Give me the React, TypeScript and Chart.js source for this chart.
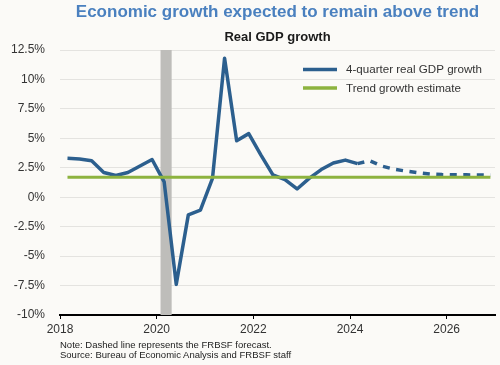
import React, { useEffect, useRef } from "react";
import { Chart, registerables } from "chart.js";

Chart.register(...registerables);

const titleText = "Economic growth expected to remain above trend";
const subtitleText = "Real GDP growth";
const noteLines = [
  "Note: Dashed line represents the FRBSF forecast.",
  "Source: Bureau of Economic Analysis and FRBSF staff",
];

const actualQuarters = [
  "2018Q1", "2018Q2", "2018Q3", "2018Q4",
  "2019Q1", "2019Q2", "2019Q3", "2019Q4",
  "2020Q1", "2020Q2", "2020Q3", "2020Q4",
  "2021Q1", "2021Q2", "2021Q3", "2021Q4",
  "2022Q1", "2022Q2", "2022Q3", "2022Q4",
  "2023Q1", "2023Q2", "2023Q3", "2023Q4",
  "2024Q1",
];
const actualGrowth = [
  3.3, 3.25, 3.1, 2.1,
  1.85, 2.1, 2.65, 3.2,
  1.3, -7.4, -1.5, -1.1,
  1.6, 11.8, 4.8, 5.4,
  3.6, 1.9, 1.5, 0.7,
  1.6, 2.35, 2.9, 3.15,
  2.85,
];

const forecastQuarters = [
  "2024Q1", "2024Q2", "2024Q3", "2024Q4",
  "2025Q1", "2025Q2", "2025Q3", "2025Q4",
  "2026Q1", "2026Q2", "2026Q3", "2026Q4",
];
const forecastGrowth = [
  2.85, 3.1, 2.65, 2.38,
  2.22, 2.08, 1.97, 1.92,
  1.9, 1.9, 1.89, 1.88,
];

const trendQuarters = ["2018Q1", "2026Q4"];
const trendGrowth = [1.7, 1.7];

const recessionStart = 2020.08;
const recessionEnd = 2020.31;

const xTickYears = [2018, 2020, 2022, 2024, 2026];
const xMin = 2018;
const xMax = 2027;
const yMin = -10;
const yMax = 12.5;
const yStep = 2.5;

const legendLabels = ["4-quarter real GDP growth", "Trend growth estimate"];

const BLUE = "#2c5f8e";
const GREEN = "#8db33f";
const TEXT = "#333333";
const BG = "#fbfaf7";

function quarterToYear(label: string): number {
  const year = parseInt(label.slice(0, 4), 10);
  const q = parseInt(label.slice(5), 10);
  return year + (q - 1) / 4 + 0.155;
}

function toPoints(quarters: string[], values: number[]) {
  return quarters.map((q, i) => ({ x: quarterToYear(q), y: values[i] }));
}

const recessionPlugin = {
  id: "recessionShade",
  beforeDatasetsDraw(chart: any) {
    const { ctx, chartArea, scales } = chart;
    const x0 = scales.x.getPixelForValue(recessionStart);
    const x1 = scales.x.getPixelForValue(recessionEnd);
    ctx.save();
    ctx.fillStyle = "#bebdba";
    ctx.fillRect(x0, chartArea.top, x1 - x0, chartArea.bottom - chartArea.top);
    ctx.restore();
  },
};

const customLegendPlugin = {
  id: "customLegend",
  afterDatasetsDraw(chart: any) {
    const { ctx, chartArea } = chart;
    const items = [
      { label: legendLabels[0], color: BLUE },
      { label: legendLabels[1], color: GREEN },
    ];
    const startX = chartArea.right - 192;
    const lineLen = 34;
    const textX = startX + 43;
    const firstY = chartArea.top + 19.5;
    const rowGap = 18.5;
    ctx.save();
    ctx.font = "11.6px 'Liberation Sans', Arial, sans-serif";
    ctx.textBaseline = "middle";
    ctx.textAlign = "left";
    items.forEach((it, i) => {
      const y = firstY + i * rowGap;
      ctx.strokeStyle = it.color;
      ctx.lineWidth = 3.5;
      ctx.lineCap = "butt";
      ctx.beginPath();
      ctx.moveTo(startX, y);
      ctx.lineTo(startX + lineLen, y);
      ctx.stroke();
      ctx.fillStyle = TEXT;
      ctx.fillText(it.label, textX, y + 0.5);
    });
    ctx.restore();
  },
};

export default function App() {
  const canvasRef = useRef<HTMLCanvasElement | null>(null);

  useEffect(() => {
    if (!canvasRef.current) return;
    const chart = new Chart(canvasRef.current, {
      type: "line",
      data: {
        datasets: [
          {
            label: legendLabels[0],
            data: toPoints(actualQuarters, actualGrowth),
            borderColor: BLUE,
            borderWidth: 3.5,
            borderJoinStyle: "round",
            pointRadius: 0,
            tension: 0,
            fill: false,
            order: 1,
          },
          {
            label: "Forecast",
            data: toPoints(forecastQuarters, forecastGrowth),
            borderColor: BLUE,
            borderWidth: 3.5,
            borderDash: [7, 6.5],
            borderJoinStyle: "round",
            pointRadius: 0,
            tension: 0,
            fill: false,
            order: 1,
          },
          {
            label: legendLabels[1],
            data: toPoints(trendQuarters, trendGrowth),
            borderColor: GREEN,
            borderWidth: 3,
            pointRadius: 0,
            tension: 0,
            fill: false,
            order: 0,
          },
        ],
      },
      options: {
        responsive: false,
        animation: false,
        devicePixelRatio: 1,
        layout: { padding: { left: 0, right: 5, top: 0, bottom: 28 } },
        plugins: {
          legend: { display: false },
          tooltip: { enabled: false },
          title: {
            display: true,
            text: titleText,
            fullSize: false,
            color: "#4a80bf",
            font: { family: "'Liberation Sans', Arial, sans-serif", size: 17, weight: "bold" },
            padding: { top: 2, bottom: 3 },
          },
          subtitle: {
            display: true,
            text: subtitleText,
            fullSize: false,
            color: "#1a1a1a",
            font: { family: "'Liberation Sans', Arial, sans-serif", size: 13, weight: "bold" },
            padding: { top: 4, bottom: 5 },
          },
        },
        scales: {
          x: {
            type: "linear",
            min: xMin,
            max: xMax,
            afterBuildTicks: (scale: any) => {
              scale.ticks = xTickYears.map((v) => ({ value: v }));
            },
            afterFit: (scale: any) => {
              scale.height = 22;
            },
            grid: {
              drawOnChartArea: false,
              drawTicks: true,
              tickLength: 4,
              color: "#000000",
              lineWidth: 1,
            },
            border: { display: true, color: "#000000", width: 2 },
            ticks: {
              color: TEXT,
              padding: 3,
              maxRotation: 0,
              autoSkip: false,
              font: { family: "'Liberation Sans', Arial, sans-serif", size: 12 },
              callback: (v: any) => String(v),
            },
          },
          y: {
            type: "linear",
            min: yMin,
            max: yMax,
            afterFit: (scale: any) => {
              scale.width = 60;
            },
            grid: {
              drawTicks: false,
              color: "#e4e3e0",
              lineWidth: 1,
            },
            border: { display: false },
            ticks: {
              stepSize: yStep,
              color: TEXT,
              padding: 15,
              font: { family: "'Liberation Sans', Arial, sans-serif", size: 12 },
              callback: (v: any) => `${v}%`,
            },
          },
        },
      },
      plugins: [recessionPlugin, customLegendPlugin],
    } as any);
    return () => chart.destroy();
  }, []);

  return (
    <div
      style={{
        position: "fixed",
        left: 0,
        top: 0,
        width: 500,
        height: 365,
        background: BG,
        overflow: "hidden",
      }}
    >
      <canvas ref={canvasRef} width={500} height={365} style={{ width: 500, height: 365, display: "block" }} />
      <div
        style={{
          position: "absolute",
          left: 60,
          top: 340,
          fontFamily: "'Liberation Sans', Arial, sans-serif",
          fontSize: 9.5,
          lineHeight: "9.6px",
          color: "#222222",
          whiteSpace: "nowrap",
        }}
      >
        {noteLines.map((l, i) => (
          <div key={i}>{l}</div>
        ))}
      </div>
    </div>
  );
}
